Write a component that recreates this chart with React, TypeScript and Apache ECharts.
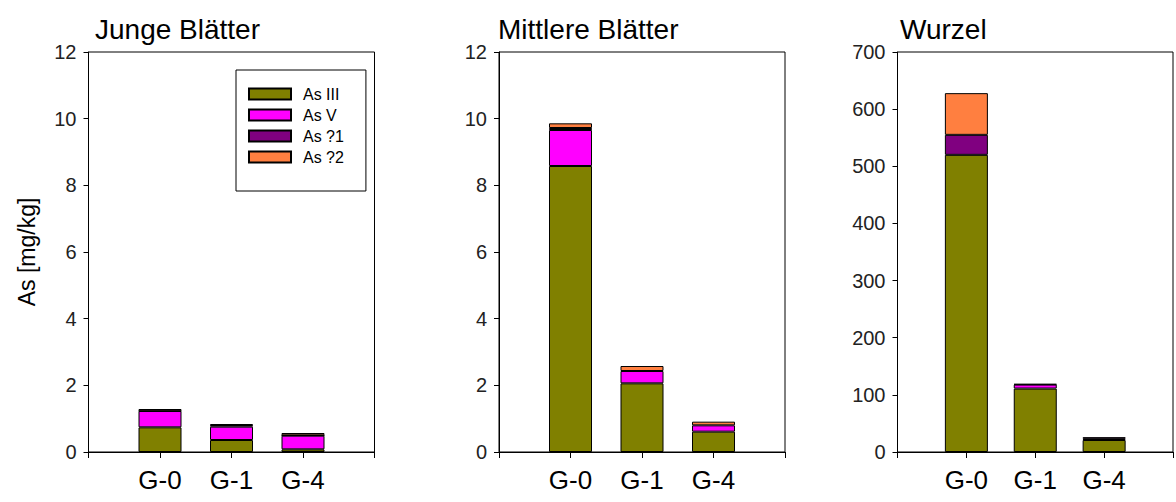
import React, { useEffect, useRef } from "react";
import * as echarts from "echarts";

const categories = ["G-0", "G-1", "G-4"];
const panelTitles = ["Junge Blätter", "Mittlere Blätter", "Wurzel"];
const seriesNames = ["As III", "As V", "As ?1", "As ?2"];
const seriesColors = ["#808000", "#FF00FF", "#800080", "#FF7F40"];

// Junge Blätter
const jungeAsIII = [0.74, 0.36, 0.08];
const jungeAsV = [0.49, 0.4, 0.41];
const jungeAs1 = [0.01, 0.05, 0.01];
const jungeAs2 = [0.05, 0.03, 0.07];

// Mittlere Blätter
const mittlereAsIII = [8.58, 2.06, 0.61];
const mittlereAsV = [1.08, 0.37, 0.19];
const mittlereAs1 = [0.06, 0, 0];
const mittlereAs2 = [0.14, 0.15, 0.11];

// Wurzel
const wurzelAsIII = [520, 111, 21];
const wurzelAsV = [0, 7, 2];
const wurzelAs1 = [35, 0, 3];
const wurzelAs2 = [73, 1, 0];

const yMax = [12, 12, 700];
const yInterval = [2, 2, 100];

const panelData = [
  [jungeAsIII, jungeAsV, jungeAs1, jungeAs2],
  [mittlereAsIII, mittlereAsV, mittlereAs1, mittlereAs2],
  [wurzelAsIII, wurzelAsV, wurzelAs1, wurzelAs2],
];

const FONT = "Arial, 'Liberation Sans', sans-serif";

export default function App() {
  const ref = useRef<HTMLDivElement>(null);
  useEffect(() => {
    if (!ref.current) return;
    const chart = echarts.init(ref.current, undefined, { renderer: "svg" });
    const lefts = [88.5, 499, 897.5];
    // axis positions: empty slot, three groups, empty slot
    const axisCats = ["", ...categories, ""];
    const grids = lefts.map((l) => ({
      left: l,
      top: 52,
      width: 286,
      height: 400,
      show: true,
      borderColor: "#000",
      borderWidth: 1,
      backgroundColor: "transparent",
    }));
    const xAxes = lefts.map((_, i) => ({
      type: "category",
      gridIndex: i,
      data: axisCats,
      boundaryGap: false,
      axisLine: { show: true, lineStyle: { color: "#000", width: 1 } },
      axisTick: { show: true, inside: false, length: 6, alignWithLabel: true, lineStyle: { color: "#000" } },
      splitLine: { show: false },
      axisLabel: {
        show: true,
        interval: 0,
        margin: 15,
        fontSize: 26,
        fontFamily: FONT,
        color: "#000",
      },
    }));
    const yAxes = lefts.map((_, i) => ({
      type: "value",
      gridIndex: i,
      min: 0,
      max: yMax[i],
      interval: yInterval[i],
      name: i === 0 ? "As [mg/kg]" : "",
      nameLocation: "middle",
      nameGap: 50,
      nameTextStyle: { fontSize: 23, fontFamily: FONT, color: "#000" },
      axisLine: { show: true, lineStyle: { color: "#000", width: 1 } },
      axisTick: { show: true, inside: false, length: 5, lineStyle: { color: "#000" } },
      splitLine: { show: false },
      axisLabel: { margin: 12, fontSize: 20, fontFamily: FONT, color: "#222" },
    }));
    const series: any[] = [];
    panelData.forEach((arrs, p) => {
      arrs.forEach((vals, s) => {
        series.push({
          type: "bar",
          name: seriesNames[s],
          xAxisIndex: p,
          yAxisIndex: p,
          stack: "panel" + p,
          barWidth: 43,
          data: ["-", ...vals.map((v) => (v === 0 ? "-" : v)), "-"],
          itemStyle: { color: seriesColors[s], borderColor: "#000", borderWidth: 1 },
        });
      });
    });
    chart.setOption({
      animation: false,
      backgroundColor: "#fff",
      title: panelTitles.map((t, i) => ({
        text: t,
        left: [95, 498, 900][i],
        top: 15,
        padding: 0,
        textStyle: { fontSize: 28, fontWeight: "normal", fontFamily: FONT, color: "#000" },
      })),
      legend: {
        data: seriesNames,
        orient: "vertical",
        left: 236,
        top: 70,
        itemWidth: 42,
        itemHeight: 11,
        itemGap: 5,
        icon: "rect",
        borderColor: "#000",
        borderWidth: 1,
        padding: [16, 22, 26, 12],
        textStyle: { fontSize: 16, fontFamily: FONT, color: "#000", padding: [0, 0, 0, 7], lineHeight: 14 },
        selectedMode: false,
      },
      grid: grids,
      xAxis: xAxes,
      yAxis: yAxes,
      series,
    });
    return () => chart.dispose();
  }, []);
  return (
    <div
      ref={ref}
      style={{ position: "fixed", left: 0, top: 0, width: 1176, height: 502 }}
    />
  );
}
